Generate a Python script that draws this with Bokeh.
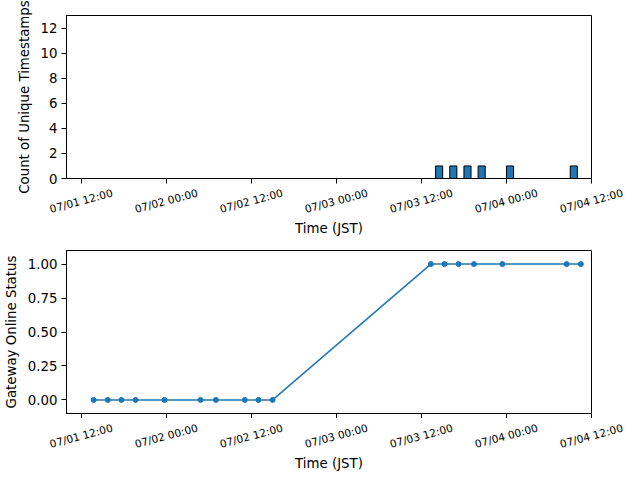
import math
import pandas as pd
from bokeh.plotting import figure
from bokeh.layouts import column
from bokeh.models import Range1d, FixedTicker, NumeralTickFormatter
from bokeh.core.properties import value
from bokeh.embed import file_html
from bokeh.resources import INLINE

# Hourly counts of unique timestamps (bin start, count)
bin_starts = ["2025-07-03 14:00", "2025-07-03 16:00", "2025-07-03 18:00",
              "2025-07-03 20:00", "2025-07-04 00:00", "2025-07-04 09:00"]
bin_counts = [1, 1, 1, 1, 1, 1]

# Gateway online status samples
status_times = ["2025-07-01 13:45", "2025-07-01 15:45", "2025-07-01 17:40",
                "2025-07-01 19:40", "2025-07-01 23:45", "2025-07-02 04:50",
                "2025-07-02 07:00", "2025-07-02 11:05", "2025-07-02 13:00",
                "2025-07-02 15:00",
                "2025-07-03 13:20", "2025-07-03 15:15", "2025-07-03 17:15",
                "2025-07-03 19:25", "2025-07-03 23:25", "2025-07-04 08:30",
                "2025-07-04 10:30"]
status_values = [0, 0, 0, 0, 0, 0, 0, 0, 0, 0, 1, 1, 1, 1, 1, 1, 1]

tick_times = ["2025-07-01 12:00", "2025-07-02 00:00", "2025-07-02 12:00",
              "2025-07-03 00:00", "2025-07-03 12:00", "2025-07-04 00:00",
              "2025-07-04 12:00"]
tick_labels = ["07/01 12:00", "07/02 00:00", "07/02 12:00", "07/03 00:00",
               "07/03 12:00", "07/04 00:00", "07/04 12:00"]
x_start, x_end = "2025-07-01 09:55", "2025-07-04 12:00"

BLUE = "#1f77b4"
FONT = "DejaVu Sans"
W = 640
LEFT, RIGHT = 66, 49          # borders around each plot frame
FRAME_H = 163                 # plot frame height


def ms(s):
    return pd.Timestamp(s).value / 1e6


tick_ms = [ms(t) for t in tick_times]
x0, x1 = ms(x_start), ms(x_end)
x_range = Range1d(x0, x1)

# The rotated tick labels live in a strip below each plot whose frame spans
# the whole page width, with the same time scale as the plot above it.
per_px = (x1 - x0) / (W - LEFT - RIGHT)
strip_range = Range1d(x0 - LEFT * per_px, x1 + RIGHT * per_px)


def style(p, ylabel):
    p.grid.visible = False
    p.outline_line_color = "black"
    p.outline_line_width = 1
    p.outline_line_alpha = 1
    for ax in (p.xaxis[0], p.yaxis[0]):
        ax.axis_line_color = "black"
        ax.major_tick_out = 5
        ax.major_tick_in = 0
        ax.minor_tick_line_color = None
        ax.major_label_text_font = FONT
        ax.axis_label_text_font = FONT
        ax.axis_label_text_font_style = "normal"
        ax.axis_label_text_font_size = "10pt"
        ax.major_label_text_color = "black"
        ax.axis_label_text_color = "black"
    xa = p.xaxis[0]
    xa.ticker = FixedTicker(ticks=tick_ms)
    xa.major_label_overrides = {t: "" for t in tick_ms}
    xa.major_label_standoff = 0
    xa.axis_label_standoff = 0
    ya = p.yaxis[0]
    ya.major_label_text_font_size = "10pt"
    ya.axis_label = ylabel
    ya.major_label_standoff = 4
    ya.axis_label_standoff = 6


def label_strip(height, label_y, title_y, **kw):
    s = figure(width=W, height=height, x_range=strip_range,
               y_range=Range1d(height, 0), x_axis_location=None,
               y_axis_location=None, output_backend="svg",
               toolbar_location=None, min_border=0, frame_align=False,
               background_fill_color=None, border_fill_color=None, **kw)
    s.grid.visible = False
    s.outline_line_color = None
    s.text(x=tick_ms, y=label_y, text=tick_labels, angle=math.radians(15),
           text_align="center", text_baseline="middle",
           text_font=value(FONT), text_font_size="8pt", text_color="black")
    s.text(x=[(x0 + x1) / 2], y=title_y, text=["Time (JST)"],
           text_align="center", text_baseline="middle",
           text_font=value(FONT), text_font_size="10pt", text_color="black")
    return s


# Top panel keeps its full 240 px canvas so the long y title is not cut;
# its label strip is laid over the panel's lower border.
strip1_h = 240 - (15 + FRAME_H + 5)
p1 = figure(width=W, height=240, x_axis_type="datetime",
            x_range=x_range, y_range=Range1d(0, 13), output_backend="svg",
            toolbar_location=None, min_border_left=LEFT,
            min_border_right=RIGHT, min_border_top=15,
            min_border_bottom=240 - 15 - FRAME_H)
lefts = [pd.Timestamp(t) for t in bin_starts]
rights = [t + pd.Timedelta(hours=1) for t in lefts]
p1.quad(left=lefts, right=rights, bottom=0, top=bin_counts,
        fill_color=BLUE, line_color="black", line_width=1)
style(p1, "Count of Unique Timestamps")
p1.yaxis[0].ticker = FixedTicker(ticks=[0, 2, 4, 6, 8, 10, 12])
s1 = label_strip(strip1_h, 17.7, 45, margin=(-strip1_h, 0, 0, 0))

p2 = figure(width=W, height=10 + FRAME_H + 5, x_axis_type="datetime",
            x_range=x_range, y_range=Range1d(-0.1, 1.1), output_backend="svg",
            toolbar_location=None, min_border_left=LEFT,
            min_border_right=RIGHT, min_border_top=10, min_border_bottom=5)
st = [pd.Timestamp(t) for t in status_times]
p2.line(st, status_values, line_color=BLUE, line_width=1.5)
p2.scatter(st, status_values, size=5, fill_color=BLUE, line_color=BLUE)
style(p2, "Gateway Online Status")
p2.yaxis[0].ticker = FixedTicker(ticks=[0, 0.25, 0.5, 0.75, 1.0])
p2.yaxis[0].formatter = NumeralTickFormatter(format="0.00")
s2 = label_strip(240 - (10 + FRAME_H + 5), 17.7, 45)

layout = column(p1, s1, p2, s2, spacing=0)
open("out.html", "w").write(file_html(layout, INLINE))
